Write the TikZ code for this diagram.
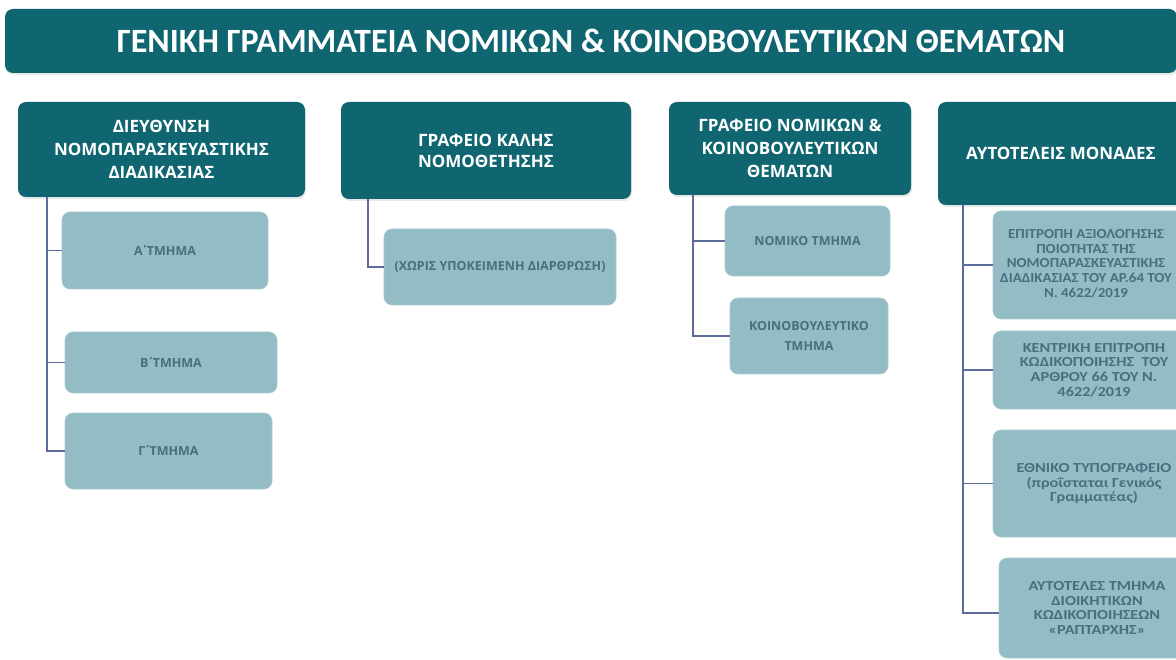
\documentclass[tikz,border=0pt]{standalone}
\usepackage{fontspec}
\setmainfont{Open Sans}
\newfontfamily\titlefont[BoldFont={Carlito Bold}]{Carlito}
\newfontfamily\calfont[FakeStretch=1.18,BoldFont={Carlito Bold}]{Carlito}
\newfontfamily\calfontn[FakeStretch=1.08,BoldFont={Carlito Bold}]{Carlito}
\usetikzlibrary{shadows}
\definecolor{darkteal}{HTML}{0F6670}
\definecolor{lightteal}{HTML}{94BCC5}
\definecolor{subtext}{HTML}{46707F}
\definecolor{conn}{HTML}{5C6C9C}
\newcommand{\tns}{\kern-1.5pt΄\kern-1.5pt}
\tikzset{
  headbox/.style={fill=darkteal, rounded corners=8pt, text=white, font=\bfseries\fontsize{17}{23}\selectfont, align=center, inner sep=0pt, drop shadow={opacity=0.18, shadow xshift=1pt, shadow yshift=-2pt}},
  subbox/.style={fill=lightteal, rounded corners=8pt, text=subtext, font=\bfseries\fontsize{12.5}{20}\selectfont, align=center, inner sep=0pt, draw=lightteal!80!white, line width=0.6pt},
  subbox4/.style={subbox, font=\calfont\bfseries\fontsize{13.8}{14.7}\selectfont},
  conline/.style={draw=conn, line width=1.3pt},
}
\begin{document}
\begin{tikzpicture}[x=1pt,y=-1pt]
\useasboundingbox (0,0) rectangle (1176,660);
\clip (0,0) rectangle (1176,660);
\fill[white] (0,0) rectangle (1176,660);
% title
\node[headbox, minimum width=1172pt, minimum height=64pt, font=\titlefont\bfseries\fontsize{34}{38}\selectfont] (title) at (591,41) {ΓΕΝΙΚΗ ΓΡΑΜΜΑΤΕΙΑ ΝΟΜΙΚΩΝ \& ΚΟΙΝΟΒΟΥΛΕΥΤΙΚΩΝ ΘΕΜΑΤΩΝ};
% headers
\node[headbox, minimum width=287pt, minimum height=95pt] (h1) at (161.5,149.5) {ΔΙΕΥΘΥΝΣΗ\\ΝΟΜΟΠΑΡΑΣΚΕΥΑΣΤΙΚΗΣ\\ΔΙΑΔΙΚΑΣΙΑΣ};
\node[headbox, minimum width=290pt, minimum height=97pt, font=\bfseries\fontsize{17}{21}\selectfont] (h2) at (486,150.5) {ΓΡΑΦΕΙΟ ΚΑΛΗΣ\\ΝΟΜΟΘΕΤΗΣΗΣ};
\node[headbox, minimum width=242pt, minimum height=93pt] (h3) at (790,148.5) {ΓΡΑΦΕΙΟ ΝΟΜΙΚΩΝ \&\\ΚΟΙΝΟΒΟΥΛΕΥΤΙΚΩΝ\\ΘΕΜΑΤΩΝ};
\node[headbox, minimum width=246pt, minimum height=103pt] (h4) at (1061,153.5) {ΑΥΤΟΤΕΛΕΙΣ ΜΟΝΑΔΕΣ};
% column 1
\node[subbox, minimum width=206pt, minimum height=77pt] (a1) at (165,250.5) {Α\tns ΤΜΗΜΑ};
\node[subbox, minimum width=212pt, minimum height=61pt] (a2) at (171,362.5) {Β\tns ΤΜΗΜΑ};
\node[subbox, minimum width=207pt, minimum height=76pt] (a3) at (168.5,451) {Γ\tns ΤΜΗΜΑ};
\coordinate (c1) at (47,0);
\draw[conline] (h1.south -| c1) -- (c1 |- a3.west) -- (a3.west);
\draw[conline] (c1 |- a1.west) -- (a1.west);
\draw[conline] (c1 |- a2.west) -- (a2.west);
% column 2
\node[subbox, minimum width=232pt, minimum height=76pt] (b1) at (500,267) {(ΧΩΡΙΣ ΥΠΟΚΕΙΜΕΝΗ ΔΙΑΡΘΡΩΣΗ)};
\coordinate (c2) at (368,0);
\draw[conline] (h2.south -| c2) -- (c2 |- b1.west) -- (b1.west);
% column 3
\node[subbox, minimum width=165pt, minimum height=70pt] (d1) at (807.5,241) {ΝΟΜΙΚΟ ΤΜΗΜΑ};
\node[subbox, minimum width=158pt, minimum height=76pt] (d2) at (809,336) {ΚΟΙΝΟΒΟΥΛΕΥΤΙΚΟ\\ΤΜΗΜΑ};
\coordinate (c3) at (693,0);
\draw[conline] (h3.south -| c3) -- (c3 |- d2.west) -- (d2.west);
\draw[conline] (c3 |- d1.west) -- (d1.west);
% column 4
\node[subbox4, font=\calfontn\bfseries\fontsize{13.8}{14.7}\selectfont, minimum width=202pt, minimum height=108pt] (e1) at (1094,265) {\begin{tabular}{@{}c@{}}ΕΠΙΤΡΟΠΗ ΑΞΙΟΛΟΓΗΣΗΣ\\ΠΟΙΟΤΗΤΑΣ ΤΗΣ\\ΝΟΜΟΠΑΡΑΣΚΕΥΑΣΤΙΚΗΣ\\ΔΙΑΔΙΚΑΣΙΑΣ ΤΟΥ ΑΡ.64 ΤΟΥ\\Ν. 4622/2019\end{tabular}\hspace*{16pt}};
\node[subbox4, minimum width=202pt, minimum height=78pt] (e2) at (1094,370) {ΚΕΝΤΡΙΚΗ ΕΠΙΤΡΟΠΗ\\ΚΩΔΙΚΟΠΟΙΗΣΗΣ\ \ ΤΟΥ\\ΑΡΘΡΟΥ 66 ΤΟΥ Ν.\\4622/2019};
\node[subbox4, minimum width=202pt, minimum height=107pt] (e3) at (1094,483.5) {ΕΘΝΙΚΟ ΤΥΠΟΓΡΑΦΕΙΟ\\(προΐσταται Γενικός\\Γραμματέας)};
\node[subbox4, minimum width=196pt, minimum height=100pt] (e4) at (1097,608) {ΑΥΤΟΤΕΛΕΣ ΤΜΗΜΑ\\ΔΙΟΙΚΗΤΙΚΩΝ\\ΚΩΔΙΚΟΠΟΙΗΣΕΩΝ\\«ΡΑΠΤΑΡΧΗΣ»};
\coordinate (c4) at (963,0);
\coordinate (e4c) at (999,613);
\draw[conline] (h4.south -| c4) -- (c4 |- e4c) -- (e4c);
\draw[conline] (c4 |- e1.west) -- (e1.west);
\draw[conline] (c4 |- e2.west) -- (e2.west);
\draw[conline] (c4 |- e3.west) -- (e3.west);
\end{tikzpicture}
\end{document}
